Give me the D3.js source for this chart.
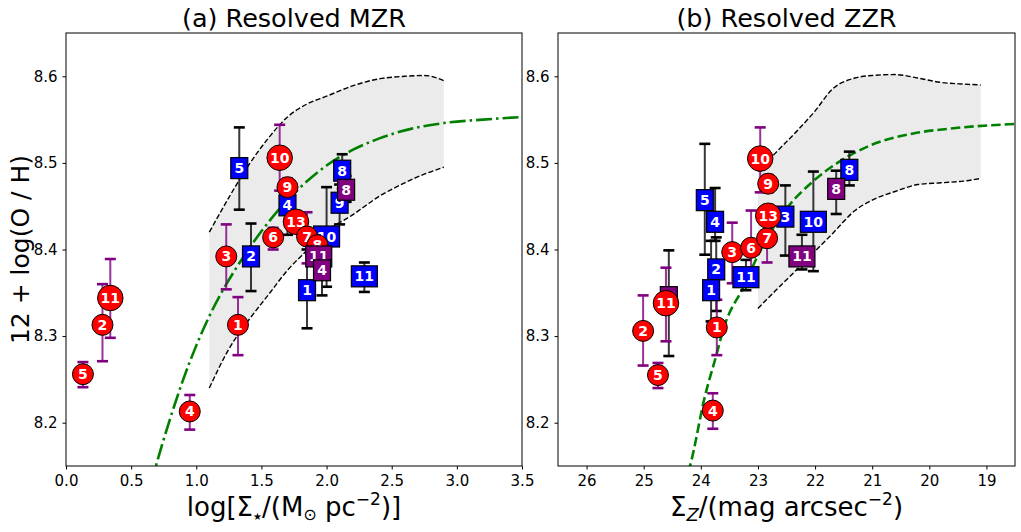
<!DOCTYPE html>
<html><head><meta charset="utf-8">
<script src="https://cdn.jsdelivr.net/npm/d3@7"></script>
<style>body{margin:0;background:#fff} svg{display:block} text{font-family:"DejaVu Sans",sans-serif}</style>
</head><body><svg id="c" width="1021" height="532"></svg>
<script>
// ---------------- DATA ----------------
// Panel (a) Resolved MZR
const mzrXTicks = [0, 0.5, 1, 1.5, 2, 2.5, 3, 3.5];
const yTicks = [8.2, 8.3, 8.4, 8.5, 8.6];

const mzrRedLabels = ["5","2","11","4","3","1","6","10","9","13","7","8"];
const mzrRedX  = [0.13, 0.28, 0.34, 0.95, 1.23, 1.32, 1.59, 1.64, 1.70, 1.765, 1.85, 1.93];
const mzrRedY  = [8.256, 8.313, 8.344, 8.213, 8.392, 8.313, 8.414, 8.506, 8.472, 8.432, 8.415, 8.405];
const mzrRedLo = [8.241, 8.271, 8.298, 8.192, 8.354, 8.278, 8.400, 8.468, 8.462, 8.420, 8.384, 8.395];
const mzrRedHi = [8.270, 8.360, 8.389, 8.232, 8.429, 8.345, 8.425, 8.544, 8.482, 8.444, 8.443, 8.415];

const mzrBlueLabels = ["5","2","4","1","10","9","8","11"];
const mzrBlueX  = [1.33, 1.42, 1.70, 1.85, 2.00, 2.10, 2.12, 2.29];
const mzrBlueY  = [8.494, 8.392, 8.451, 8.353, 8.415, 8.454, 8.491, 8.369];
const mzrBlueLo = [8.446, 8.352, 8.417, 8.309, 8.357, 8.429, 8.470, 8.351];
const mzrBlueHi = [8.541, 8.430, 8.480, 8.400, 8.472, 8.475, 8.510, 8.385];

const mzrPurpleLabels = ["8","11","4"];
const mzrPurpleX  = [2.15, 1.94, 1.965];
const mzrPurpleY  = [8.469, 8.392, 8.376];
const mzrPurpleLo = [8.455, 8.380, 8.347];
const mzrPurpleHi = [8.485, 8.405, 8.400];

const mzrFitX = [0.65, 0.69, 0.80, 0.90, 1.00, 1.10, 1.20, 1.30, 1.40, 1.50, 1.65, 1.80, 2.00, 2.20, 2.40, 2.64, 2.90, 3.20, 3.50];
const mzrFitY = [8.128, 8.150, 8.205, 8.250, 8.289, 8.323, 8.352, 8.377, 8.400, 8.421, 8.449, 8.472, 8.497, 8.515, 8.528, 8.539, 8.546, 8.550, 8.553];

const mzrBandX  = [1.10, 1.25, 1.40, 1.55, 1.70, 1.85, 2.00, 2.20, 2.40, 2.60, 2.75, 2.90];
const mzrBandHi = [8.420, 8.460, 8.497, 8.528, 8.553, 8.568, 8.577, 8.589, 8.597, 8.600, 8.601, 8.595];
const mzrBandLo = [8.240, 8.285, 8.318, 8.347, 8.376, 8.399, 8.421, 8.440, 8.461, 8.477, 8.487, 8.495];

// Panel (b) Resolved ZZR
const zzrXTicks = [26, 25, 24, 23, 22, 21, 20, 19];

const zzrRedLabels = ["2","5","11","1","4","3","6","7","13","9","10"];
const zzrRedX  = [25.01, 24.75, 24.61, 23.72, 23.79, 23.45, 23.12, 22.84, 22.82, 22.82, 22.96];
const zzrRedY  = [8.306, 8.255, 8.338, 8.310, 8.214, 8.397, 8.402, 8.413, 8.439, 8.476, 8.505];
const zzrRedLo = [8.266, 8.240, 8.294, 8.278, 8.193, 8.361, 8.370, 8.385, 8.430, 8.466, 8.466];
const zzrRedHi = [8.347, 8.269, 8.379, 8.342, 8.234, 8.431, 8.445, 8.440, 8.450, 8.486, 8.541];

const zzrBlueLabels = ["5","4","2","1","11","3","10","8"];
const zzrBlueX  = [23.93, 23.75, 23.73, 23.82, 23.21, 22.52, 22.03, 21.40];
const zzrBlueY  = [8.457, 8.432, 8.377, 8.353, 8.368, 8.438, 8.432, 8.492];
const zzrBlueLo = [8.394, 8.410, 8.329, 8.317, 8.353, 8.393, 8.375, 8.474];
const zzrBlueHi = [8.522, 8.471, 8.414, 8.410, 8.388, 8.474, 8.490, 8.513];

const zzrPurpleLabels = ["8","11","2"];
const zzrPurpleX  = [21.63, 22.23, 24.56];
const zzrPurpleY  = [8.470, 8.392, 8.345];
const zzrPurpleLo = [8.441, 8.377, 8.277];
const zzrPurpleHi = [8.491, 8.417, 8.399];

const zzrFitX = [24.30, 24.19, 23.93, 23.72, 23.61, 23.26, 22.91, 22.49, 22.03, 21.56, 21.04, 20.28, 19.58, 18.50];
const zzrFitY = [8.128, 8.150, 8.230, 8.280, 8.307, 8.356, 8.405, 8.448, 8.479, 8.502, 8.520, 8.534, 8.540, 8.545];

const zzrBandX  = [23.0, 22.7, 22.3, 22.0, 21.7, 21.3, 21.0, 20.6, 20.2, 19.8, 19.4, 19.1];
const zzrBandHi = [8.490, 8.511, 8.538, 8.560, 8.585, 8.598, 8.601, 8.602, 8.598, 8.593, 8.591, 8.590];
const zzrBandLo = [8.332, 8.352, 8.378, 8.398, 8.418, 8.445, 8.457, 8.467, 8.475, 8.477, 8.479, 8.482];

const bigCircleLabels = ["10","11","13"];

// ---------------- DRAW ----------------
const svg = d3.select("#c");
const Y0 = 33, Y1 = 466;
const y = d3.scaleLinear().domain([8.15, 8.65]).range([Y1, Y0]);
const zip = (L,X,Y,Lo,Hi) => L.map((l,i)=>({label:l,x:X[i],y:Y[i],lo:Lo[i],hi:Hi[i]}));

const panels = [
  {id:"a", x0:66, x1:522, domain:[0,3.5], ticks:mzrXTicks, fmt:d3.format(".1f"),
   title:"(a) Resolved MZR",
   red:zip(mzrRedLabels,mzrRedX,mzrRedY,mzrRedLo,mzrRedHi),
   blue:zip(mzrBlueLabels,mzrBlueX,mzrBlueY,mzrBlueLo,mzrBlueHi),
   purple:zip(mzrPurpleLabels,mzrPurpleX,mzrPurpleY,mzrPurpleLo,mzrPurpleHi),
   fitX:mzrFitX, fitY:mzrFitY, fitDash:"16,4,2.5,4",
   bandX:mzrBandX, bandLo:mzrBandLo, bandHi:mzrBandHi,
   order:["blue","red","purple"]},
  {id:"b", x0:558, x1:1015, domain:[26.5,18.5], ticks:zzrXTicks, fmt:d3.format("d"),
   title:"(b) Resolved ZZR",
   red:zip(zzrRedLabels,zzrRedX,zzrRedY,zzrRedLo,zzrRedHi),
   blue:zip(zzrBlueLabels,zzrBlueX,zzrBlueY,zzrBlueLo,zzrBlueHi),
   purple:zip(zzrPurpleLabels,zzrPurpleX,zzrPurpleY,zzrPurpleLo,zzrPurpleHi),
   fitX:zzrFitX, fitY:zzrFitY, fitDash:"9.5,4",
   bandX:zzrBandX, bandLo:zzrBandLo, bandHi:zzrBandHi,
   order:["blue","purple","red"]}
];

const defs = svg.append("defs");

panels.forEach(p => {
  const x = d3.scaleLinear().domain(p.domain).range([p.x0, p.x1]);
  defs.append("clipPath").attr("id","clip"+p.id)
    .append("rect").attr("x",p.x0).attr("y",Y0).attr("width",p.x1-p.x0).attr("height",Y1-Y0);
  const g = svg.append("g");
  const gc = g.append("g").attr("clip-path","url(#clip"+p.id+")");

  // band
  const band = p.bandX.map((v,i)=>({x:v, lo:p.bandLo[i], hi:p.bandHi[i]}));
  gc.append("path").datum(band)
    .attr("d", d3.area().x(d=>x(d.x)).y0(d=>y(d.lo)).y1(d=>y(d.hi)).curve(d3.curveMonotoneX))
    .attr("fill","#d3d3d3").attr("fill-opacity",0.45);
  ["lo","hi"].forEach(k=>{
    gc.append("path").datum(band)
      .attr("d", d3.line().x(d=>x(d.x)).y(d=>y(d[k])).curve(d3.curveMonotoneX))
      .attr("fill","none").attr("stroke","#000").attr("stroke-width",1.4)
      .attr("stroke-dasharray","5.2,2.3");
  });

  // fit line
  const fit = p.fitX.map((v,i)=>({x:v,y:p.fitY[i]}));
  gc.append("path").datum(fit)
    .attr("d", d3.line().x(d=>x(d.x)).y(d=>y(d.y)).curve(d3.curveMonotoneX))
    .attr("fill","none").attr("stroke","#008000").attr("stroke-width",2.6)
    .attr("stroke-dasharray",p.fitDash);

  // axes
  const ax = g.append("g").attr("transform",`translate(0,${Y1})`)
    .call(d3.axisBottom(x).tickValues(p.ticks).tickFormat(p.fmt).tickSize(3.5).tickSizeOuter(0).tickPadding(6));
  const ay = g.append("g").attr("transform",`translate(${p.x0},0)`)
    .call(d3.axisLeft(y).tickValues(yTicks).tickFormat(d3.format(".1f")).tickSize(3.5).tickSizeOuter(0).tickPadding(5));
  [ax,ay].forEach(a=>{
    a.select(".domain").remove();
    a.selectAll("line").attr("stroke","#000").attr("stroke-width",1);
    a.selectAll("text").attr("font-size",15).attr("fill","#000")
      .attr("font-family","DejaVu Sans");
  });
  g.append("rect").attr("x",p.x0).attr("y",Y0).attr("width",p.x1-p.x0).attr("height",Y1-Y0)
    .attr("fill","none").attr("stroke","#000").attr("stroke-width",1);

  // title
  g.append("text").attr("x",(p.x0+p.x1)/2).attr("y",27).attr("text-anchor","middle")
    .attr("font-size",25.5).attr("fill","#000").text(p.title);

  // error bars
  const gm = g.append("g");
  p.order.forEach(k=>{
    const isRed = k==="red";
    const col = isRed ? "#800080" : "#222";
    const capCol = isRed ? "#800080" : "#000";
    p[k].forEach(d=>{
      const cx = x(d.x);
      gm.append("line").attr("x1",cx).attr("x2",cx).attr("y1",y(d.lo)).attr("y2",y(d.hi))
        .attr("stroke",col).attr("stroke-width",2).attr("stroke-opacity",isRed?0.8:0.9);
      [d.lo,d.hi].forEach(v=>{
        gm.append("line").attr("x1",cx-5.5).attr("x2",cx+5.5).attr("y1",y(v)).attr("y2",y(v))
          .attr("stroke",capCol).attr("stroke-width",2.6);
      });
    });
  });
  // markers
  p.order.forEach(k=>{
    p[k].forEach(d=>{
      const cx = x(d.x), cy = y(d.y);
      if (k==="red") {
        const r = bigCircleLabels.includes(d.label) ? 12.75 : 10.5;
        gm.append("circle").attr("cx",cx).attr("cy",cy).attr("r",r)
          .attr("fill","#ff0000").attr("stroke","#000").attr("stroke-width",1);
      } else {
        const w = d.label.length>1 ? 26 : 17, h = 21;
        gm.append("rect").attr("x",cx-w/2).attr("y",cy-h/2).attr("width",w).attr("height",h)
          .attr("fill", k==="blue" ? "#0000ff" : "#800080")
          .attr("stroke","#000").attr("stroke-width",1.2);
      }
      gm.append("text").attr("x",cx).attr("y",cy).attr("dy","0.36em")
        .attr("text-anchor","middle").attr("font-size",14).attr("font-weight","bold")
        .attr("fill","#fff").text(d.label);
    });
  });
});

// axis labels
const xa = svg.append("text").attr("x",(66+522)/2).attr("y",516).attr("text-anchor","middle")
  .attr("font-size",26).attr("fill","#000");
xa.append("tspan").text("log[Σ");
xa.append("tspan").attr("font-size",10).attr("dy",4).text("★");
xa.append("tspan").attr("dy",-4).text("/(M");
xa.append("tspan").attr("font-size",16).attr("dy",4).text("⊙");
xa.append("tspan").attr("dy",-4).text(" pc");
xa.append("tspan").attr("font-size",17).attr("dy",-11).text("−2");
xa.append("tspan").attr("dy",11).text(")]");

const xb = svg.append("text").attr("x",(558+1015)/2).attr("y",516).attr("text-anchor","middle")
  .attr("font-size",26).attr("fill","#000");
xb.append("tspan").text("Σ");
xb.append("tspan").attr("font-size",18).attr("font-style","italic").attr("dy",5).text("Z");
xb.append("tspan").attr("dy",-5).text("/(mag arcsec");
xb.append("tspan").attr("font-size",17).attr("dy",-11).text("−2");
xb.append("tspan").attr("dy",11).text(")");

svg.append("text").attr("transform",`translate(29,${(Y0+Y1)/2}) rotate(-90)`)
  .attr("text-anchor","middle").attr("font-size",25).attr("fill","#000")
  .text("12 + log(O / H)");
</script></body></html>
